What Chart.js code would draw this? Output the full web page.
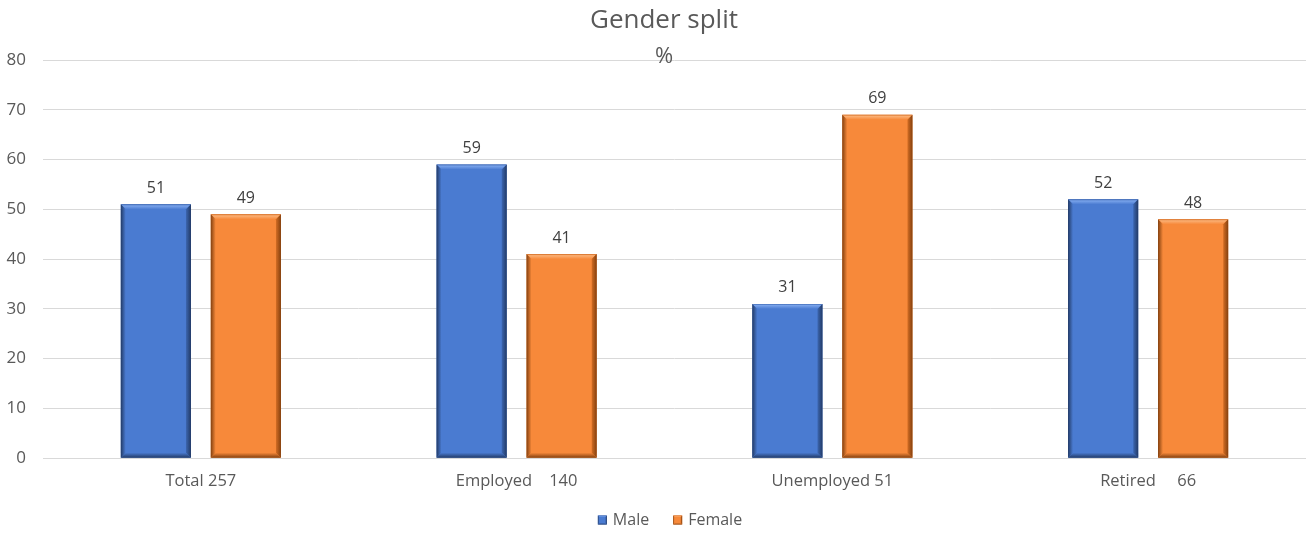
<!DOCTYPE html>
<html>
<head>
<meta charset="utf-8">
<script src="https://cdn.jsdelivr.net/npm/chart.js@4/dist/chart.umd.min.js"></script>
<style>
  html, body { margin: 0; padding: 0; background: #fff; }
  #wrap { width: 1306px; height: 534px; }
</style>
</head>
<body>
<div id="wrap"><canvas id="genderChart"></canvas></div>
<script>
// data
var categories = ['Total 257', 'Employed    140', 'Unemployed 51', 'Retired     66'];
var seriesNames = ['Male', 'Female'];
var maleValues = [51, 59, 31, 52];
var femaleValues = [49, 41, 69, 48];
var yTicks = [0, 10, 20, 30, 40, 50, 60, 70, 80];

var FONT = "'Open Sans', 'Liberation Sans', sans-serif";
var GREY = '#595959';

// face / light / mid / dark shades for the bevelled bars
var blue = { face: '#4a7bd1', light: '#79a3ea', mid: '#3c66b0', dark: '#223a66' };
var orange = { face: '#f7893a', light: '#fbb074', mid: '#d36d24', dark: '#83400f' };
var shades = [blue, orange];

function poly(ctx, pts, fill) {
  ctx.beginPath();
  ctx.moveTo(pts[0][0], pts[0][1]);
  for (var i = 1; i < pts.length; i++) ctx.lineTo(pts[i][0], pts[i][1]);
  ctx.closePath();
  ctx.fillStyle = fill;
  ctx.fill();
}

function bevelBox(ctx, l, r, t, b, s, c) {
  var g;
  g = ctx.createLinearGradient(0, t, 0, t + s);
  g.addColorStop(0, c.mid); g.addColorStop(0.3, c.light); g.addColorStop(1, c.face);
  poly(ctx, [[l, t], [r, t], [r - s, t + s], [l + s, t + s]], g);
  g = ctx.createLinearGradient(0, b - s, 0, b);
  g.addColorStop(0, c.face); g.addColorStop(1, c.dark);
  poly(ctx, [[l, b], [r, b], [r - s, b - s], [l + s, b - s]], g);
  g = ctx.createLinearGradient(l, 0, l + s, 0);
  g.addColorStop(0, c.dark); g.addColorStop(1, c.face);
  poly(ctx, [[l, t], [l + s, t + s], [l + s, b - s], [l, b]], g);
  g = ctx.createLinearGradient(r - s, 0, r, 0);
  g.addColorStop(0, c.mid); g.addColorStop(1, c.dark);
  poly(ctx, [[r, t], [r - s, t + s], [r - s, b - s], [r, b]], g);
}

// bevel on every bar, value labels, title and legend
var bevelPlugin = {
  id: 'bevel',
  afterDatasetsDraw: function (chart) {
    var ctx = chart.ctx;
    chart.data.datasets.forEach(function (ds, di) {
      var meta = chart.getDatasetMeta(di);
      meta.data.forEach(function (bar, i) {
        var l = bar.x - bar.width / 2, r = bar.x + bar.width / 2;
        ctx.save();
        bevelBox(ctx, l, r, bar.y, bar.base, 5, shades[di]);
        ctx.fillStyle = '#404040';
        ctx.font = '16px ' + FONT;
        ctx.textAlign = 'center';
        ctx.textBaseline = 'bottom';
        ctx.fillText(ds.data[i], bar.x, bar.y - 8);
        ctx.restore();
      });
    });
  },
  afterDraw: function (chart) {
    var ctx = chart.ctx;
    var cx = chart.width / 2 + 11;
    ctx.save();
    ctx.fillStyle = GREY;
    ctx.textAlign = 'center';
    ctx.textBaseline = 'middle';
    ctx.font = '26px ' + FONT;
    ctx.fillText('Gender split', cx, 21);
    ctx.font = '22px ' + FONT;
    ctx.fillText('%', cx, 57);

    // legend
    ctx.font = '16px ' + FONT;
    ctx.textAlign = 'left';
    var box = 9, gap = 6, between = 24;
    var total = 0;
    var widths = seriesNames.map(function (n) { return ctx.measureText(n).width; });
    widths.forEach(function (w) { total += box + gap + w; });
    total += between * (seriesNames.length - 1);
    var x = cx + 6 - total / 2, y = 520;
    seriesNames.forEach(function (n, i) {
      ctx.fillStyle = shades[i].face;
      ctx.fillRect(x, y - box / 2, box, box);
      bevelBox(ctx, x, x + box, y - box / 2, y + box / 2, 1.5, shades[i]);
      ctx.fillStyle = GREY;
      ctx.fillText(n, x + box + gap, y);
      x += box + gap + widths[i] + between;
    });
    ctx.restore();
  }
};

var ctx = document.getElementById('genderChart').getContext('2d');
var chart = new Chart(ctx, {
  type: 'bar',
  data: {
    labels: categories,
    datasets: [{
      label: seriesNames[0],
      data: maleValues,
      backgroundColor: blue.face,
      borderWidth: 0,
      categoryPercentage: 0.57,
      barPercentage: 0.78
    }, {
      label: seriesNames[1],
      data: femaleValues,
      backgroundColor: orange.face,
      borderWidth: 0,
      categoryPercentage: 0.57,
      barPercentage: 0.78
    }]
  },
  options: {
    responsive: true,
    maintainAspectRatio: false,
    animation: false,
    layout: { padding: { top: 60, right: 0, left: 0, bottom: 38 } },
    scales: {
      x: {
        grid: { display: false },
        border: { color: '#d9d9d9', width: 1 },
        ticks: { color: GREY, font: { family: FONT, size: 16.5 }, padding: 5 }
      },
      y: {
        min: 0,
        max: 80,
        afterBuildTicks: function (axis) {
          axis.ticks = yTicks.map(function (v) { return { value: v }; });
        },
        afterFit: function (axis) { axis.width = 43; },
        grid: { color: '#d9d9d9', drawTicks: false },
        border: { display: false },
        ticks: { color: GREY, font: { family: FONT, size: 17 }, padding: 17 }
      }
    },
    plugins: {
      title: { display: false },
      tooltip: { enabled: false },
      legend: { display: false }
    }
  },
  plugins: [bevelPlugin]
});
</script>
</body>
</html>
